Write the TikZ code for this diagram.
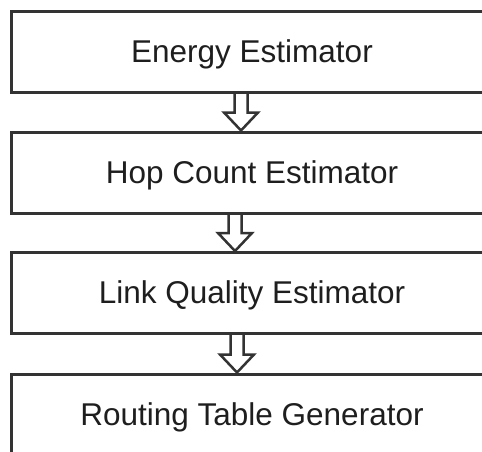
\documentclass[tikz,border=0pt]{standalone}
\usepackage{fontspec}
\setmainfont{Liberation Sans}
\usetikzlibrary{calc,backgrounds}
\definecolor{edge}{HTML}{333333}
\definecolor{txt}{HTML}{1E1E1E}
\begin{document}
\begin{tikzpicture}[x=1pt,y=-1pt,
  stagebox/.style={draw=edge, line width=3pt, rectangle,
    minimum width=482pt, minimum height=81pt, inner sep=0pt,
    text height=22pt, text depth=1pt, text=txt,
    font=\fontsize{31.5pt}{36pt}\selectfont},
  hollowarrow/.style={draw=edge, line width=2.5pt, fill=white, line join=miter}]
\useasboundingbox (0,0) rectangle (482,451);
% boxes
\node[stagebox] (e) at (252,51.5) {Energy Estimator};
\node[stagebox] (h) at (252,172.5) {Hop Count Estimator};
\node[stagebox] (l) at (252,293) {Link Quality Estimator};
\node[stagebox] (r) at (252,414.5) {Routing Table Generator};
% hollow arrows
\begin{scope}[on background layer]
\foreach \a/\b/\x in {e/h/241, h/l/235, l/r/237}{
  \coordinate (s) at (\x,0);
  \coordinate (top) at (\a.south -| s);
  \coordinate (tip) at (\b.north -| s);
  \draw[hollowarrow]
    ($(top)+(-6.5,0)$) -- ($(tip)+(-6.5,-18)$) -- ($(tip)+(-17,-18)$) -- (tip)
    -- ($(tip)+(17,-18)$) -- ($(tip)+(6.5,-18)$) -- ($(top)+(6.5,0)$);
}
\end{scope}
\end{tikzpicture}
\end{document}
